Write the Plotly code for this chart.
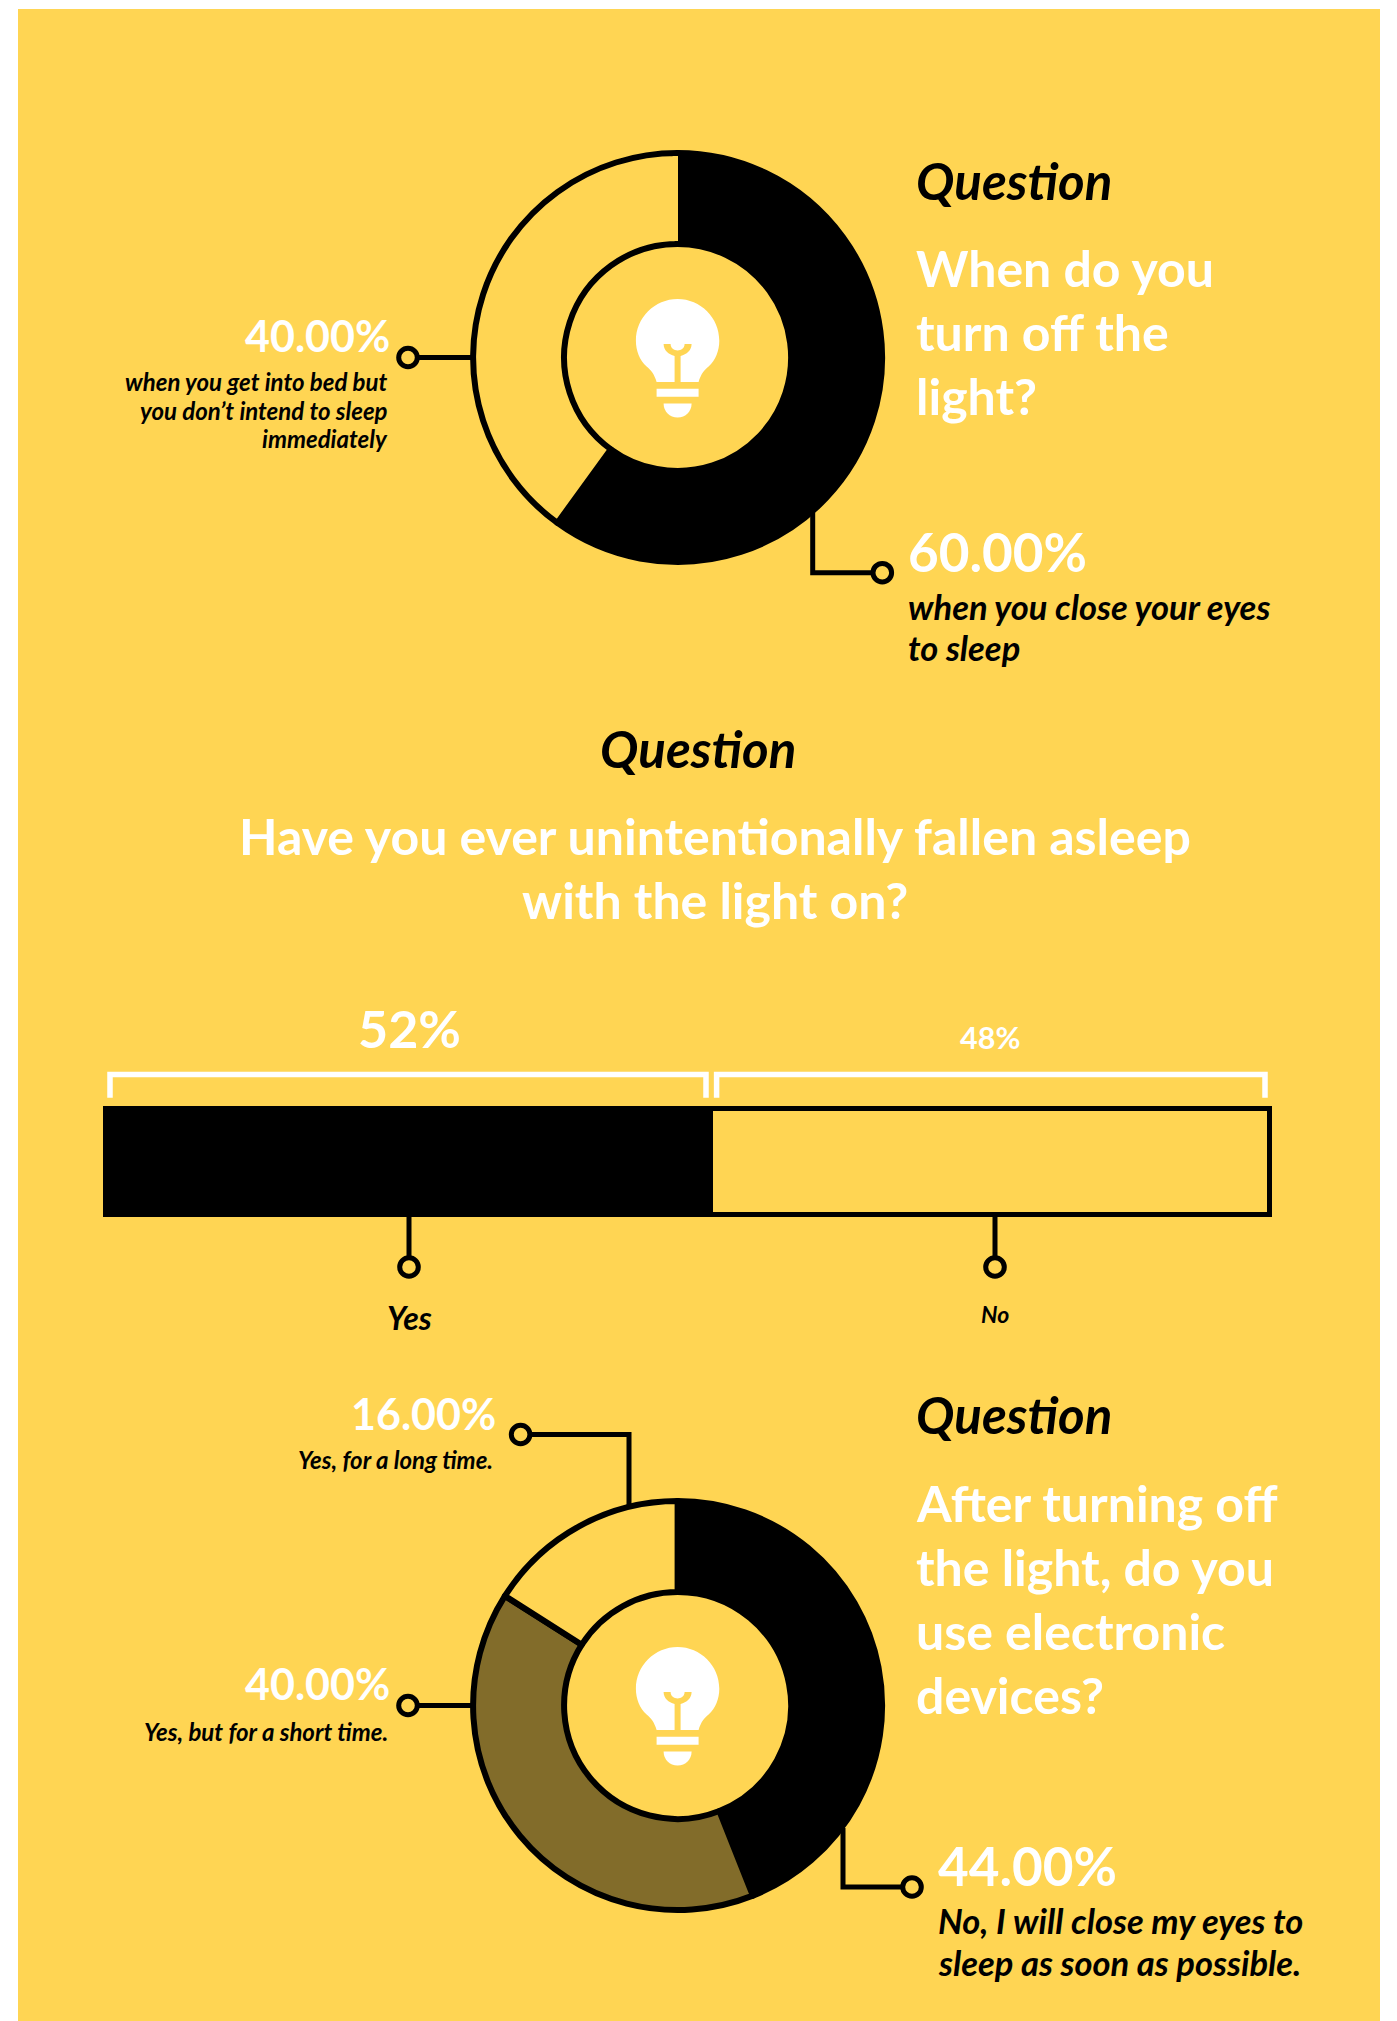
import plotly.graph_objects as go

WIDTH, HEIGHT = 1397, 2021
YELLOW = "#FFD553"
OLIVE = "#826C2A"
BLACK = "#000000"
WHITE = "#FFFFFF"
FONT = "Lato"

# Survey results
lights_labels = ["when you close your eyes to sleep", "when you get into bed but you don't intend to sleep immediately"]
lights_values = [60, 40]
asleep_labels = ["Yes", "No"]
asleep_values = [52, 48]
devices_labels = ["No, I will close my eyes to sleep as soon as possible.", "Yes, but for a short time.", "Yes, for a long time."]
devices_values = [44, 40, 16]

QUESTION_ONE = ["When do you", "turn off the", "light?"]
QUESTION_TWO = ["Have you ever unintentionally fallen asleep", "with the light on?"]
QUESTION_THREE = ["After turning off", "the light, do you", "use electronic", "devices?"]

DONUT_X = 677.6
DONUT_R = 204.5
HOLE_R = 113.5
RING_W = 6
TOP_Y = 357.5
BOTTOM_Y = 1705.5
BAR_L, BAR_R, BAR_T, BAR_B = 106.2, 1270.4, 1108.5, 1214.5
BAR_PAD = 12  # spare room around the bar so its outline is not clipped
LINE_W = 5

shapes = []
annotations = []


def px(v):
    return v / WIDTH


def py(v):
    return 1 - v / HEIGHT


def text(x, y, s, size, color, anchor="left", italic=False):
    body = f"<b><i>{s}</i></b>" if italic else f"<b>{s}</b>"
    annotations.append(dict(
        x=px(x), y=py(y), xref="paper", yref="paper", text=body, showarrow=False,
        xanchor=anchor, yanchor="middle", align=anchor,
        font=dict(family=FONT, size=size, color=color),
    ))


def stroke(path, color=BLACK, width=LINE_W):
    shapes.append(dict(type="path", xref="x", yref="y", path=path, layer="above",
                       line=dict(color=color, width=width), fillcolor="rgba(0,0,0,0)"))


def dot(x, y, r=9.3):
    shapes.append(dict(type="circle", xref="x", yref="y", layer="above",
                       x0=x - r, x1=x + r, y0=y - r, y1=y + r,
                       line=dict(color=BLACK, width=LINE_W), fillcolor=YELLOW))


def fill(path, color):
    shapes.append(dict(type="path", xref="x", yref="y", path=path, layer="above",
                       line=dict(width=0), fillcolor=color))


def bulb(cx, cy):
    """Light bulb icon in the hole of a donut."""
    def P(cmds):
        out = []
        for c in cmds:
            if isinstance(c, str):
                out.append(c)
            else:
                out.append(f"{cx + c[0]:.1f},{cy + c[1]:.1f}")
        return " ".join(out)

    glass = P(["M", (-21, 24.6), "C", (-23, 17), (-27, 12), (-31, 9),
               "C", (-38, 3), (-41.7, -7), (-41.7, -16.7),
               "C", (-41.7, -39.7), (-23, -58.4), (0, -58.4),
               "C", (23, -58.4), (41.7, -39.7), (41.7, -16.7),
               "C", (41.7, -7), (38, 3), (31, 9),
               "C", (27, 12), (23, 17), (21, 24.6), "Z"])
    filament = P(["M", (-14, -13.4), "L", (-7, -13.4),
                  "C", (-7, -9), (-3.5, -7), (0, -7),
                  "C", (3.5, -7), (7, -9), (7, -13.4),
                  "L", (14, -13.4),
                  "C", (14, -7), (9, -3), (3, -1.5),
                  "L", (3, 24.6), "L", (-3, 24.6), "L", (-3, -1.5),
                  "C", (-9, -3), (-14, -7), (-14, -13.4), "Z"])
    band = P(["M", (-21, 31.3), "L", (21, 31.3), "L", (21, 39.3), "L", (-21, 39.3), "Z"])
    cap = P(["M", (-14, 46), "L", (14, 46),
             "C", (14, 54), (8, 60), (0, 60),
             "C", (-8, 60), (-14, 54), (-14, 46), "Z"])
    fill(glass, WHITE)
    fill(filament, YELLOW)
    fill(band, WHITE)
    fill(cap, WHITE)


def donut(values, colors, cy):
    return go.Pie(
        values=values, sort=False, direction="clockwise", rotation=0,
        hole=HOLE_R / DONUT_R, textinfo="none", showlegend=False,
        marker=dict(colors=colors, line=dict(color=BLACK, width=RING_W)),
        domain=dict(x=[px(DONUT_X - DONUT_R), px(DONUT_X + DONUT_R)],
                    y=[py(cy + DONUT_R), py(cy - DONUT_R)]),
    )


fig = go.Figure()

fig.add_trace(donut(lights_values, [BLACK, YELLOW], TOP_Y))
fig.add_trace(donut(devices_values, [BLACK, OLIVE, YELLOW], BOTTOM_Y))

# Stacked bar for the middle question
for value, color, name in zip(asleep_values, [BLACK, YELLOW], asleep_labels):
    fig.add_trace(go.Bar(
        x=[value], y=["share"], orientation="h", name=name, xaxis="x2", yaxis="y2",
        marker=dict(color=color, line=dict(color=BLACK, width=LINE_W)), showlegend=False,
    ))

# Background panel
shapes.append(dict(type="rect", xref="x", yref="y", x0=18, x1=1380, y0=9, y1=HEIGHT,
                   fillcolor=YELLOW, line=dict(width=0), layer="below"))

# The top donut's first slice starts on a clean edge, without the outline spilling left
edge_top = TOP_Y - DONUT_R + RING_W / 2
edge_bottom = TOP_Y - HOLE_R - RING_W / 2
fill(f"M {DONUT_X - 5},{edge_top} L {DONUT_X + 0.4},{edge_top} L {DONUT_X + 0.4},{edge_bottom} "
     f"L {DONUT_X - 5},{edge_bottom} Z", YELLOW)

bulb(DONUT_X, TOP_Y)
bulb(DONUT_X, BOTTOM_Y)

# Leader lines and end dots
stroke(f"M 408,{TOP_Y} L 472,{TOP_Y}")
dot(408, TOP_Y)
stroke("M 812.7,510 L 812.7,572.7 L 882.3,572.7")
dot(882.3, 572.7)

stroke(f"M 408,{BOTTOM_Y} L 472,{BOTTOM_Y}")
dot(408, BOTTOM_Y)
stroke("M 520.6,1434.5 L 629,1434.5 L 629,1506")
dot(520.6, 1434.5)
stroke("M 843,1828 L 843,1887 L 912,1887")
dot(912, 1887)

stroke(f"M 409,{BAR_B} L 409,1267")
dot(409, 1267)
stroke(f"M 995,{BAR_B} L 995,1267")
dot(995, 1267)

# Brackets over the bar
stroke("M 110,1097.7 L 110,1074.5 L 706,1074.5 L 706,1097.7", color=WHITE, width=5.5)
stroke("M 716.6,1097.7 L 716.6,1074.5 L 1265,1074.5 L 1265,1097.7", color=WHITE, width=5.5)

H1, H2 = 51, 50
SUB_S, SUB_M = 24, 34.5

# Top donut text
text(913.5, 180, "Question", H1, BLACK, italic=True)
for y, line in zip([268, 332, 396], QUESTION_ONE):
    text(913.5, y, line, H2, WHITE)
text(392, 335, f"{lights_values[1]:.2f}%", 43, WHITE, "right")
for y, line in zip([382, 410.5, 439], ["when you get into bed but", "you don’t intend to sleep", "immediately"]):
    text(390, y, line, SUB_S, BLACK, "right", italic=True)
text(906, 551, f"{lights_values[0]:.2f}%", 53, WHITE)
for y, line in zip([607, 648], ["when you close your eyes", "to sleep"]):
    text(906, y, line, SUB_M, BLACK, italic=True)

# Middle question text
text(698, 748, "Question", H1, BLACK, "center", italic=True)
for y, line in zip([836, 900], QUESTION_TWO):
    text(715, y, line, H2, WHITE, "center")
text(409, 1028, f"{asleep_values[0]}%", 52, WHITE, "center")
text(990, 1037, f"{asleep_values[1]}%", 30.5, WHITE, "center")
text(409, 1317, asleep_labels[0], 32, BLACK, "center", italic=True)
text(995, 1314, asleep_labels[1], 23, BLACK, "center", italic=True)

# Bottom donut text
text(913.5, 1414, "Question", H1, BLACK, italic=True)
for y, line in zip([1503, 1567, 1631, 1695], QUESTION_THREE):
    text(913.5, y, line, H2, WHITE)
text(498, 1413, f"{devices_values[2]:.2f}%", 43, WHITE, "right")
text(495, 1459, devices_labels[2], SUB_S, BLACK, "right", italic=True)
text(392, 1683, f"{devices_values[1]:.2f}%", 43, WHITE, "right")
text(390, 1731, devices_labels[1], SUB_S, BLACK, "right", italic=True)
text(936, 1865, f"{devices_values[0]:.2f}%", 53, WHITE)
for y, line in zip([1920.5, 1962], ["No, I will close my eyes to", "sleep as soon as possible."]):
    text(936, y, line, SUB_M, BLACK, italic=True)

x_pad = 100 * BAR_PAD / (BAR_R - BAR_L)
y_pad = BAR_PAD / (BAR_B - BAR_T)

fig.update_layout(
    width=WIDTH, height=HEIGHT, autosize=False,
    margin=dict(l=0, r=0, t=0, b=0, pad=0),
    paper_bgcolor=WHITE, plot_bgcolor="rgba(0,0,0,0)",
    barmode="stack", bargap=0,
    hovermode=False,
    xaxis=dict(range=[0, WIDTH], domain=[0, 1], visible=False, fixedrange=True),
    yaxis=dict(range=[HEIGHT, 0], domain=[0, 1], visible=False, fixedrange=True),
    xaxis2=dict(range=[-x_pad, 100 + x_pad],
                domain=[px(BAR_L - BAR_PAD), px(BAR_R + BAR_PAD)],
                visible=False, anchor="y2", fixedrange=True),
    yaxis2=dict(type="category", range=[-0.5 - y_pad, 0.5 + y_pad],
                domain=[py(BAR_B + BAR_PAD), py(BAR_T - BAR_PAD)],
                visible=False, anchor="x2", fixedrange=True),
    shapes=shapes,
    annotations=annotations,
)

fig.write_html("out.html", config=dict(displayModeBar=False))
